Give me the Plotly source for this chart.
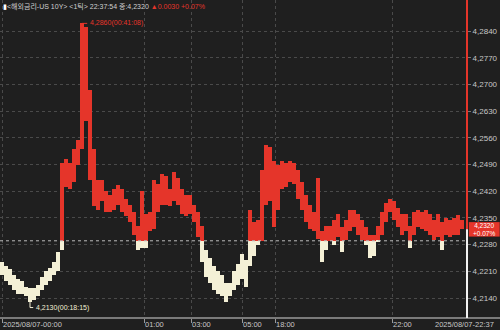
import plotly.graph_objects as go

# ---- data (per time bucket: high / low yield) ----
high = [4.2235, 4.2225, 4.2215, 4.2200, 4.2190, 4.2185, 4.2170, 4.2165, 4.2165, 4.2175,
        4.2195, 4.2210, 4.2220, 4.2235, 4.2260, 4.2495, 4.2505, 4.2495, 4.2530, 4.2555,
        4.2860, 4.2850, 4.2685, 4.2530, 4.2450, 4.2450, 4.2420, 4.2410, 4.2425, 4.2435,
        4.2425, 4.2400, 4.2385, 4.2365, 4.2330, 4.2420, 4.2360, 4.2365, 4.2450, 4.2440,
        4.2465, 4.2460, 4.2425, 4.2470, 4.2455, 4.2425, 4.2410, 4.2410, 4.2385, 4.2365,
        4.2330, 4.2265, 4.2245, 4.2225, 4.2210, 4.2200, 4.2180, 4.2180, 4.2210, 4.2230,
        4.2255, 4.2240, 4.2370, 4.2340, 4.2345, 4.2475, 4.2540, 4.2535, 4.2500, 4.2490,
        4.2500, 4.2495, 4.2500, 4.2495, 4.2475, 4.2445, 4.2410, 4.2385, 4.2365, 4.2455,
        4.2315, 4.2330, 4.2330, 4.2345, 4.2360, 4.2325, 4.2345, 4.2370, 4.2370, 4.2360,
        4.2345, 4.2325, 4.2305, 4.2305, 4.2330, 4.2365, 4.2390, 4.2400, 4.2395, 4.2375,
        4.2360, 4.2360, 4.2330, 4.2365, 4.2370, 4.2365, 4.2370, 4.2360, 4.2345, 4.2360,
        4.2340, 4.2350, 4.2345, 4.2350, 4.2358, 4.2345]
low = [4.2200, 4.2185, 4.2175, 4.2160, 4.2150, 4.2150, 4.2145, 4.2130, 4.2135, 4.2145,
       4.2160, 4.2175, 4.2185, 4.2200, 4.2210, 4.2265, 4.2430, 4.2425, 4.2445, 4.2490,
       4.2530, 4.2605, 4.2450, 4.2380, 4.2370, 4.2395, 4.2365, 4.2365, 4.2370, 4.2385,
       4.2365, 4.2355, 4.2340, 4.2305, 4.2265, 4.2270, 4.2270, 4.2315, 4.2320, 4.2365,
       4.2385, 4.2385, 4.2380, 4.2395, 4.2385, 4.2360, 4.2355, 4.2360, 4.2340, 4.2300,
       4.2235, 4.2195, 4.2180, 4.2160, 4.2150, 4.2145, 4.2130, 4.2145, 4.2160, 4.2175,
       4.2190, 4.2170, 4.2225, 4.2250, 4.2280, 4.2290, 4.2385, 4.2395, 4.2325, 4.2370,
       4.2425, 4.2430, 4.2445, 4.2440, 4.2400, 4.2370, 4.2340, 4.2320, 4.2315, 4.2295,
       4.2235, 4.2265, 4.2290, 4.2280, 4.2300, 4.2260, 4.2292, 4.2315, 4.2325, 4.2305,
       4.2292, 4.2280, 4.2245, 4.2250, 4.2287, 4.2305, 4.2340, 4.2365, 4.2345, 4.2325,
       4.2305, 4.2315, 4.2270, 4.2305, 4.2325, 4.2320, 4.2315, 4.2305, 4.2292, 4.2300,
       4.2266, 4.2305, 4.2300, 4.2305, 4.2305, 4.2320]

ref_price = 4.2290        # previous close (dotted reference)
last_price = 4.2320
y_ticks = [4.2140, 4.2210, 4.2280, 4.2350, 4.2420, 4.2490, 4.2560, 4.2630, 4.2700, 4.2770, 4.2840]
x_tick_idx = [0, 35.5, 47.25, 60, 68.25, 97.5]
x_tick_text = ["2025/08/07-00:00", "01:00", "03:00", "05:00", "18:00", "22:00"]
last_label = "2025/08/07-22:37"
hi_label = "4,2860(00:41:08)"
lo_label = "4,2130(00:18:15)"

RED = "#e5352a"
CREAM = "#f4f0d6"
BG = "#1f1f1f"
GRID = "#4a4a4a"
TXT = "#c8c8c8"
FONT = "Liberation Sans, Arial, sans-serif"

n = len(high)
xs = list(range(n))
red_base, red_len, cr_base, cr_len = [], [], [], []
for h, l in zip(high, low):
    if h > ref_price:
        b = max(l, ref_price)
        red_base.append(b); red_len.append(h - b)
    else:
        red_base.append(ref_price); red_len.append(0)
    if l < ref_price:
        t = min(h, ref_price)
        cr_base.append(l); cr_len.append(t - l)
    else:
        cr_base.append(ref_price); cr_len.append(0)

fig = go.Figure()
fig.add_trace(go.Bar(x=xs, y=red_len, base=red_base, marker=dict(color=RED, line=dict(width=0)),
                     width=1.0, hoverinfo="skip"))
fig.add_trace(go.Bar(x=xs, y=cr_len, base=cr_base, marker=dict(color=CREAM, line=dict(width=0)),
                     width=1.0, hoverinfo="skip"))

x_max = n + 0.25
y_lo, y_hi = 4.20876, 4.29213
fig.update_layout(
    width=500, height=330,
    margin=dict(l=0, r=33, t=0, b=12, autoexpand=False),
    paper_bgcolor=BG, plot_bgcolor=BG,
    showlegend=False, barmode="overlay", bargap=0,
    separators=",.",
    font=dict(family=FONT, size=8, color=TXT),
    xaxis=dict(range=[-0.5, x_max], tickvals=x_tick_idx, showticklabels=False,
               showgrid=True, gridcolor=GRID, griddash="dot", gridwidth=1,
               ticks="outside", ticklen=4, tickcolor="#9a9a9a", automargin=False,
               showline=False, zeroline=False, fixedrange=True),
    yaxis=dict(range=[y_lo, y_hi], side="right", tickvals=y_ticks, tickformat=".4f",
               showgrid=True, gridcolor=GRID, griddash="dot", gridwidth=1, automargin=False,
               ticks="outside", ticklen=3, tickcolor="#777", ticklabelstandoff=0,
               tickfont=dict(family=FONT, size=8, color=TXT), zeroline=False, showline=False),
)

# reference line
fig.add_shape(type="line", xref="x", yref="y", x0=-0.5, x1=x_max, y0=ref_price, y1=ref_price,
              line=dict(color="#bdbdbd", width=1, dash="dot"))
# bottom axis line
fig.add_shape(type="line", xref="paper", yref="paper", x0=0, x1=1.08, y0=0, y1=0,
              line=dict(color="#9a9a9a", width=1.5))
# current time cursor
fig.add_shape(type="line", xref="paper", yref="y", x0=1, x1=1, y0=last_price, y1=y_hi,
              line=dict(color=RED, width=2))
fig.add_shape(type="line", xref="paper", yref="y", x0=1, x1=1, y0=y_lo, y1=last_price,
              line=dict(color="#f2f2f2", width=2))

# x labels
for xv, t in zip(x_tick_idx, x_tick_text):
    fig.add_annotation(x=xv, y=0, xref="x", yref="paper", text=t, showarrow=False,
                       xanchor="left", yanchor="top", yshift=0, xshift=-1,
                       font=dict(family=FONT, size=7.5, color=TXT))
fig.add_annotation(x=1.062, y=0, xref="paper", yref="paper", text=last_label, showarrow=False,
                   xanchor="right", yanchor="top", yshift=0,
                   font=dict(family=FONT, size=7.5, color=TXT))

# last price badge
fig.add_shape(type="rect", xref="paper", yref="y", x0=1.004, x1=1.07,
              y0=last_price - 0.0019, y1=last_price + 0.0019,
              fillcolor=RED, line=dict(width=0))
fig.add_annotation(x=1.037, y=last_price, xref="paper", yref="y", text="4,2320<br>+0.07%",
                   showarrow=False, xanchor="center", yanchor="middle", yshift=-0.5,
                   borderpad=0, align="center",
                   font=dict(family=FONT, size=6.5, color="#ffffff"))

# high marker
hi_idx = high.index(max(high))
fig.add_shape(type="line", xref="x", yref="y", x0=hi_idx, x1=hi_idx + 1.3,
              y0=max(high), y1=max(high), line=dict(color=RED, width=1))
fig.add_annotation(x=hi_idx + 1.3, y=max(high), xref="x", yref="y", text=hi_label,
                   showarrow=False, xanchor="left", yanchor="middle", xshift=1,
                   font=dict(family=FONT, size=7, color=RED))
# low marker
lo_idx = low.index(min(low))
fig.add_shape(type="line", xref="x", yref="y", x0=lo_idx, x1=lo_idx, y0=min(low), y1=min(low) - 0.0015,
              line=dict(color=CREAM, width=1))
fig.add_shape(type="line", xref="x", yref="y", x0=lo_idx, x1=lo_idx + 0.8, y0=min(low) - 0.0015,
              y1=min(low) - 0.0015, line=dict(color=CREAM, width=1))
fig.add_annotation(x=lo_idx + 0.8, y=min(low) - 0.0015, xref="x", yref="y", text=lo_label,
                   showarrow=False, xanchor="left", yanchor="middle", xshift=1,
                   font=dict(family=FONT, size=7, color=CREAM))

# title
fig.add_annotation(x=0, y=1, xref="paper", yref="paper", xanchor="left", yanchor="top",
                   showarrow=False, yshift=0, xshift=1,
                   text=("<span style='color:#ffffff'>▮</span>"
                         "<span style='color:#d0d0d0'>&lt;해외금리-US 10Y&gt; &lt;1틱&gt; 22:37:54 종:4,2320</span> "
                         "<span style='color:#e5352a'>▲0.0030 +0.07%</span>"),
                   font=dict(family="Liberation Sans, Noto Sans CJK KR", size=7, color=TXT))

fig.write_html("out.html")
